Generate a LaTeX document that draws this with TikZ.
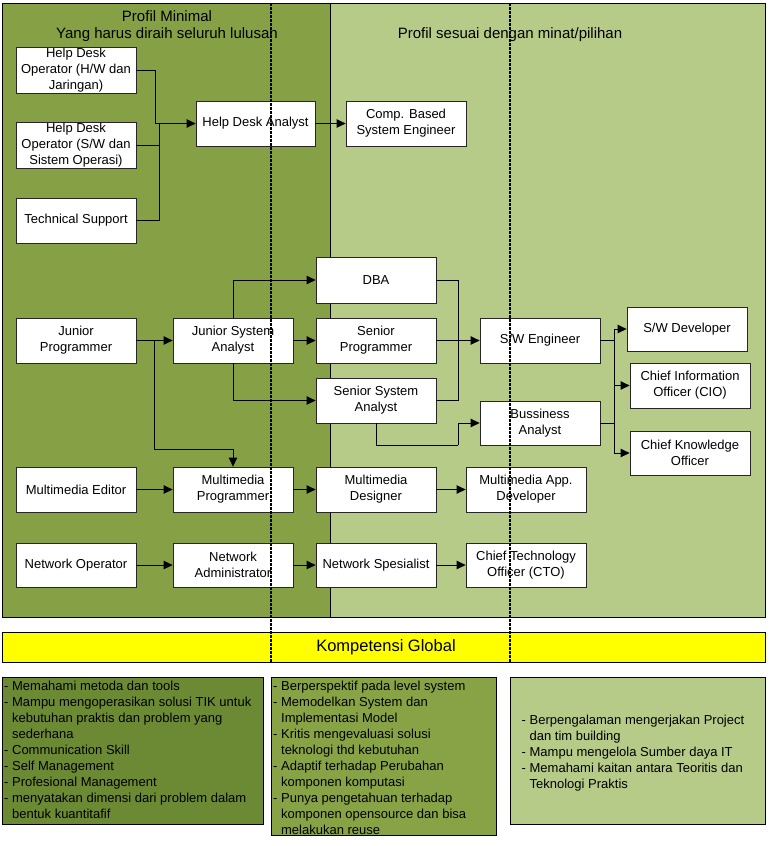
\documentclass[tikz,border=0pt]{standalone}
\usepackage{fontspec}
\setmainfont{Liberation Sans}
\usetikzlibrary{arrows.meta}
\definecolor{darkpanel}{RGB}{134,161,69}
\definecolor{lightpanel}{RGB}{183,203,137}
\definecolor{bleft}{RGB}{108,137,52}
\definecolor{bmid}{RGB}{135,163,70}
\definecolor{bright}{RGB}{183,203,137}
\definecolor{kyellow}{RGB}{255,255,0}
\newcommand{\hind}{\phantom{- }}
\begin{document}
\begin{tikzpicture}[x=1pt,y=-1pt,
  box/.style={draw=black!85, line width=0.8pt, fill=white, minimum width=120pt,
    minimum height=45pt, inner sep=1pt, align=center, font=\fontsize{13}{16}\selectfont},
  conn/.style={line width=1pt, draw=black},
  arr/.style={conn, -{Triangle[length=9pt,width=8.5pt]}},
  panel/.style={draw=black, line width=1pt},
  btext/.style={inner sep=0pt, align=left, anchor=north west, font=\fontsize{13}{16}\selectfont},
  ttl/.style={inner sep=0pt, align=center, font=\fontsize{15}{17.5}\selectfont},
  dotline/.style={line width=1.7pt, dash pattern=on 2.5pt off 1.5pt}]
\useasboundingbox (0,0) rectangle (773,846);
\fill[white] (0,0) rectangle (773,846);

% panels
\filldraw[panel, fill=darkpanel] (2,3) rectangle (330.5,617);
\filldraw[panel, fill=lightpanel] (330.5,3) rectangle (765,617);
\filldraw[panel, fill=kyellow] (2,632.5) rectangle (765,662);
\filldraw[panel, fill=bleft] (2,677.5) rectangle (263,824);
\filldraw[panel, fill=bmid] (271,677.5) rectangle (496,835.5);
\filldraw[panel, fill=bright] (510.7,677.5) rectangle (765,824);

% titles
\node[ttl] (t1) at (167,26) {Profil Minimal\\Yang harus diraih seluruh lulusan};
\node[ttl] (t2) at (510,34.5) {Profil sesuai dengan minat/pilihan};
\node[inner sep=0pt, font=\fontsize{16.5}{19}\selectfont] (kg) at (386,647.5) {Kompetensi Global};

% boxes
\node[box] (hdoA) at (76,70.5) {Help Desk\\Operator (H/W dan\\Jaringan)};
\node[box] (hdoB) at (76,145.5) {Help Desk\\Operator (S/W dan\\Sistem Operasi)};
\node[box] (ts) at (76,220.5) {Technical Support};
\node[box, minimum width=119pt] (hda) at (255.5,123.5) {Help Desk Analyst};
\node[box] (cbse) at (406,123.5) {Comp. Based\\System Engineer};
\node[box, minimum height=46pt] (dba) at (376,280) {DBA};
\node[box] (jp) at (76,340.5) {Junior\\Programmer};
\node[box] (jsa) at (233,340.5) {Junior System\\Analyst};
\node[box] (sp) at (376,340.5) {Senior\\Programmer};
\node[box] (ssa) at (376,400.5) {Senior System\\Analyst};
\node[box] (swe) at (540,340.5) {S/W Engineer};
\node[box, minimum height=44pt] (ba) at (540,423) {Bussiness\\Analyst};
\node[box, minimum height=44pt] (swd) at (687,329) {S/W Developer};
\node[box] (cio) at (690,385.5) {Chief Information\\Officer (CIO)};
\node[box, minimum height=44pt] (cko) at (690,453) {Chief Knowledge\\Officer};
\node[box] (me) at (76,489.5) {Multimedia Editor};
\node[box] (mp) at (233,489.5) {Multimedia\\Programmer};
\node[box] (md) at (376,489.5) {Multimedia\\Designer};
\node[box] (mad) at (526,489.5) {Multimedia App.\\Developer};
\node[box, minimum height=44pt] (no) at (76,565) {Network Operator};
\node[box, minimum height=44pt] (na) at (233,565) {Network\\Administrator};
\node[box, minimum height=44pt] (ns) at (376,565) {Network Spesialist};
\node[box, minimum height=44pt] (cto) at (526,565) {Chief Technology\\Officer (CTO)};

% junction coordinates
\coordinate (j1) at (155,123.5);
\coordinate (j2) at (159,123.5);
\coordinate (j3) at (154,340.5);
\coordinate (j4) at (233,449);
\coordinate (j5) at (458,340.5);
\coordinate (j6) at (458,445);
\coordinate (j7) at (614,340.5);
\coordinate (j8) at (614,423);

% connectors top
\draw[conn] (hdoA.east) -| (j1);
\draw[conn] (hdoB.east) -| (j2);
\draw[conn] (ts.east) -| (j2);
\draw[arr] (j1) -- (hda.west);
\draw[arr] (hda.east) -- (cbse.west);

% connectors middle
\draw[arr] (jp.east) -- (jsa.west);
\draw[conn] (j3) |- (j4);
\draw[arr] (j4) -- (mp.north);
\draw[arr] (jsa.north) |- (dba.west);
\draw[arr] (jsa.east) -- (sp.west);
\draw[arr] (jsa.south) |- (ssa.west);
\draw[conn] (dba.east) -| (j5);
\draw[conn] (ssa.east) -| (j5);
\draw[arr] (sp.east) -- (swe.west);
\draw[conn] (ssa.south) |- (j6);
\draw[arr] (j6) |- (ba.west);
\draw[conn] (swe.east) -- (j7);
\draw[conn] (ba.east) -- (j8);
\draw[conn] (j7) -- (j8);
\draw[arr] (j7) |- (swd.west);
\draw[arr] (j8) |- (cio.west);
\draw[arr] (j8) |- (cko.west);

% connectors bottom rows
\draw[arr] (me.east) -- (mp.west);
\draw[arr] (mp.east) -- (md.west);
\draw[arr] (md.east) -- (mad.west);
\draw[arr] (no.east) -- (na.west);
\draw[arr] (na.east) -- (ns.west);
\draw[arr] (ns.east) -- (cto.west);

% bottom texts
\node[btext] (bl) at (4,678.8) {\strut- Memahami metoda dan tools\\- Mampu mengoperasikan solusi TIK untuk\\\hind kebutuhan praktis dan problem yang\\\hind sederhana\\- Communication Skill\\- Self Management\\- Profesional Management\\- menyatakan dimensi dari problem dalam\\\hind bentuk kuantitafif};
\node[btext] (bm) at (273,678.8) {\strut- Berperspektif pada level system\\- Memodelkan System dan\\\hind Implementasi Model\\- Kritis mengevaluasi solusi\\\hind teknologi thd kebutuhan\\- Adaptif terhadap Perubahan\\\hind komponen komputasi\\- Punya pengetahuan terhadap\\\hind komponen opensource dan bisa\\\hind melakukan reuse};
\node[btext] (br) at (521.5,712.8) {\strut- Berpengalaman mengerjakan Project\\\hind dan tim building\\- Mampu mengelola Sumber daya IT\\- Memahami kaitan antara Teoritis dan\\\hind Teknologi Praktis};

% dotted dividers
\coordinate (d1a) at (271,3);
\coordinate (d1b) at (271,662);
\coordinate (d2a) at (510,3);
\coordinate (d2b) at (510,662);
\draw[dotline] (d1a) -- (d1b);
\draw[dotline] (d2a) -- (d2b);
\end{tikzpicture}
\end{document}
